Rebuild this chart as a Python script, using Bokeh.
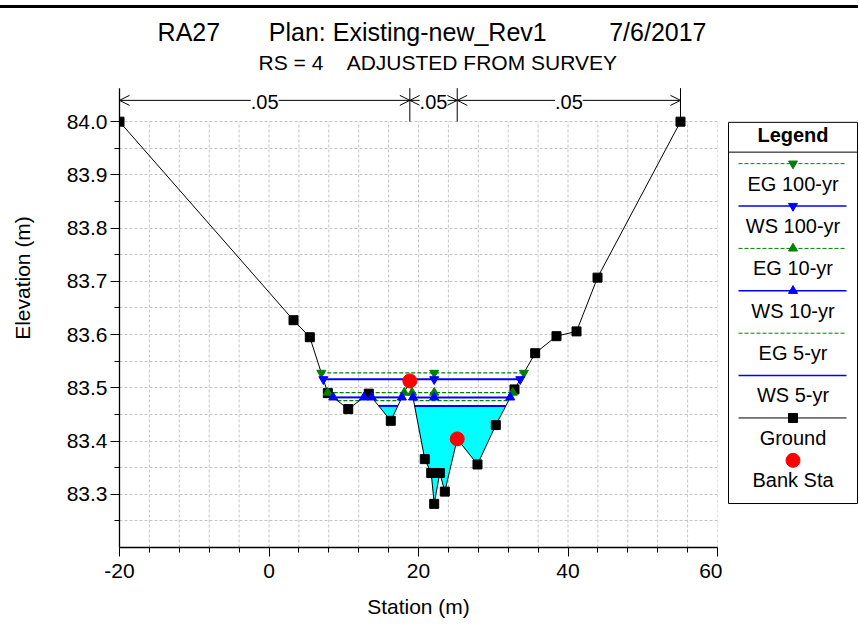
import numpy as np
from bokeh.plotting import figure
from bokeh.models import (Range1d, FixedTicker, ColumnDataSource, Arrow, OpenHead,
                          LabelSet, Label, Div, PrintfTickFormatter)
from bokeh.layouts import row, column
from bokeh.embed import file_html
from bokeh.resources import INLINE
from bokeh.core.properties import value

FONT = "Liberation Sans"

# ---------------- data ----------------
station = [-20.0, 3.28, 5.46, 7.87, 10.60, 13.35, 16.29, 18.84, 20.84, 21.70, 22.10,
           22.85, 23.52, 25.18, 27.89, 30.34, 32.84, 35.61, 38.46, 41.14, 43.95, 55.05]
elevation = [84.000, 83.627, 83.595, 83.490, 83.460, 83.489, 83.438, 83.513, 83.366, 83.340,
             83.282, 83.340, 83.305, 83.404, 83.356, 83.430, 83.497, 83.565, 83.597, 83.606,
             83.707, 84.000]
bank_stations = [18.84, 25.18]
n_values = [".05", ".05", ".05"]

profiles = ["EG 100-yr", "WS 100-yr", "EG 10-yr", "WS 10-yr", "EG 5-yr", "WS 5-yr"]
levels = [83.528, 83.516, 83.491, 83.482, 83.476, 83.466]
prof_colors = ["green", "blue", "green", "blue", "green", "blue"]
prof_dash = ["4 2", "solid", "4 2", "solid", "4 2", "solid"]
prof_width = [1.2, 2, 1.2, 2, 1.2, 2]
prof_marker = ["inverted_triangle", "inverted_triangle", "triangle", "triangle", None, None]

x_major = [-20, 0, 20, 40, 60]
x_minor = [-16, -12, -8, -4, 4, 8, 12, 16, 24, 28, 32, 36, 44, 48, 52, 56]
y_major = [83.3, 83.4, 83.5, 83.6, 83.7, 83.8, 83.9, 84.0]
y_minor = [83.25, 83.35, 83.45, 83.55, 83.65, 83.75, 83.85, 83.95]

title_text = "RA27" + "\u00a0" * 7 + "Plan: Existing-new_Rev1" + "\u00a0" * 9 + "7/6/2017"
subtitle_text = "RS = 4\u00a0\u00a0\u00a0\u00a0ADJUSTED FROM SURVEY"

# layout constants (vertical extent of the plot region in elevation units)
Y_BOTTOM = 83.2
Y_GRID_TOP = 84.0
Y_ZONE_TOP = 84.063      # top of the n-value zone markers
Y_ARROW = 84.040
Y_FRAME_TOP = 84.2126    # frame extends up to hold the titles
Y_TITLE = 84.1678
Y_SUBTITLE = 84.1119

GRID = "#c4c4c4"

# ---------------- helpers ----------------
def wet_intervals(xs, ys, L):
    out, start = [], None
    for i in range(len(xs) - 1):
        x0, y0, x1, y1 = xs[i], ys[i], xs[i + 1], ys[i + 1]
        if (y0 - L) * (y1 - L) < 0:
            xc = x0 + (L - y0) * (x1 - x0) / (y1 - y0)
            if y0 > L:
                start = xc
            else:
                out.append((start, xc))
                start = None
    return out

thalweg = station[int(np.argmin(elevation))]
bank_elev = list(np.interp(bank_stations, station, elevation))

# ---------------- main figure ----------------
MAIN_W, LEG_W, H = 722, 136, 612
p = figure(width=MAIN_W, height=H, x_range=Range1d(-20, 60),
           y_range=Range1d(Y_BOTTOM, Y_FRAME_TOP),
           output_backend="svg", toolbar_location=None,
           min_border_left=119, min_border_right=MAIN_W - 717, min_border_top=0,
           min_border_bottom=69)
p.outline_line_color = None
p.background_fill_color = "white"
p.border_fill_color = "white"

p.add_layout(Label(x=-14.9, y=Y_TITLE, text=title_text, text_font=FONT, text_font_size="25px",
                   text_align="left", text_baseline="middle", text_color="black"))
p.add_layout(Label(x=-1.4, y=Y_SUBTITLE, text=subtitle_text, text_font=FONT,
                   text_font_size="21px", text_align="left", text_baseline="middle",
                   text_color="black"))

# grids
p.xgrid.visible = False
p.ygrid.ticker = FixedTicker(ticks=sorted(y_major + y_minor))
p.ygrid.grid_line_color = GRID
p.ygrid.grid_line_dash = "3 2"
p.ygrid.grid_line_width = 1
grid_x = [x for x in sorted(x_major + x_minor) if x > -20]
p.segment(x0=grid_x, y0=[Y_BOTTOM] * len(grid_x), x1=grid_x, y1=[Y_GRID_TOP] * len(grid_x),
          line_color=GRID, line_dash="3 2", line_width=1)

# axes
p.xaxis.ticker = FixedTicker(ticks=x_major, minor_ticks=x_minor)
p.xaxis.formatter = PrintfTickFormatter(format="%d")
p.yaxis.ticker = FixedTicker(ticks=y_major, minor_ticks=y_minor)
p.yaxis.formatter = PrintfTickFormatter(format="%.1f")
p.yaxis.bounds = (Y_BOTTOM, Y_ZONE_TOP)
for ax in (p.xaxis[0], p.yaxis[0]):
    ax.axis_line_color = "black"
    ax.axis_line_width = 1.3
    ax.major_tick_line_color = "black"
    ax.minor_tick_line_color = "black"
    ax.major_tick_in = 0
    ax.minor_tick_in = 0
    ax.major_tick_out = 9
    ax.minor_tick_out = 5
    ax.major_label_text_font = FONT
    ax.major_label_text_font_size = "21px"
    ax.major_label_text_color = "black"
    ax.axis_label_text_font = FONT
    ax.axis_label_text_font_size = "21px"
    ax.axis_label_text_font_style = "normal"
    ax.axis_label_text_color = "black"
p.xaxis.axis_label = "Station (m)"
p.yaxis.axis_label = "Elevation (m)"
p.yaxis.major_label_standoff = 3
p.yaxis.axis_label_standoff = 30
p.xaxis.major_label_standoff = 7
p.xaxis.axis_label_standoff = 14

# water fill (WS 5-yr, the lowest profile)
ws5 = levels[5]
fill_xs, fill_ys = [], []
for a, b in wet_intervals(station, elevation, ws5):
    inner = [(x, y) for x, y in zip(station, elevation) if a < x < b]
    fill_xs.append([a] + [x for x, _ in inner] + [b])
    fill_ys.append([ws5] + [y for _, y in inner] + [ws5])
p.patches(fill_xs, fill_ys, fill_color="#00ffff", line_color=None)

# profile lines
marker_sets = []
for name, L, col, dash, lw, mk in zip(profiles, levels, prof_colors, prof_dash, prof_width, prof_marker):
    iv = wet_intervals(station, elevation, L)
    x0 = [a for a, _ in iv]
    x1 = [b for _, b in iv]
    p.segment(x0=x0, y0=[L] * len(iv), x1=x1, y1=[L] * len(iv),
              line_color=col, line_dash=dash, line_width=lw)
    if mk:
        mx = x0 + x1
        if any(a < thalweg < b for a, b in iv):
            mx.append(thalweg)
        marker_sets.append((mx, [L] * len(mx), col, mk))

# ground
p.line(station, elevation, line_color="black", line_width=1)
p.scatter(station, elevation, marker="square", size=9, fill_color="black", line_color="black")

for mx, my, col, mk in marker_sets:
    p.scatter(mx, my, marker=mk, size=9, fill_color=col, line_color=col)

p.scatter(bank_stations, bank_elev, marker="circle", size=14, fill_color="red", line_color="red")

# n-value zones
bounds = [station[0]] + bank_stations + [station[-1]]
p.segment(x0=bounds, y0=[Y_GRID_TOP] * len(bounds), x1=bounds, y1=[Y_ZONE_TOP] * len(bounds),
          line_color="black", line_width=1)
nsrc = ColumnDataSource(dict(x0=bounds[:-1], x1=bounds[1:],
                             xm=[(a + b) / 2 for a, b in zip(bounds[:-1], bounds[1:])],
                             y=[Y_ARROW] * len(n_values), n=n_values))
p.add_layout(Arrow(start=OpenHead(size=10, line_width=1, line_color="black"),
                   end=OpenHead(size=10, line_width=1, line_color="black"),
                   x_start="x0", y_start="y", x_end="x1", y_end="y", source=nsrc,
                   line_color="black", line_width=1))
p.add_layout(LabelSet(x="xm", y="y", text="n", source=nsrc, text_align="center",
                      text_baseline="middle", text_font=value(FONT), text_font_size="20px",
                      text_color="black", background_fill_color="white", y_offset=-2))

# ---------------- legend figure (page-pixel coordinates) ----------------
leg_names = profiles + ["Ground", "Bank Sta"]
leg_colors = prof_colors + ["black", None]
leg_dash = prof_dash + ["solid", None]
leg_marker = prof_marker + ["square", "circle"]
leg_mcolor = prof_colors[:4] + [None, None, "black", "red"]
leg_msize = [9, 9, 9, 9, 0, 0, 9, 14]

leg = figure(width=LEG_W, height=H, x_range=Range1d(MAIN_W, MAIN_W + LEG_W),
             y_range=Range1d(551, 8),
             output_backend="svg", toolbar_location=None, x_axis_type=None, y_axis_type=None,
             min_border_left=0, min_border_right=0, min_border_top=0, min_border_bottom=69)
leg.grid.visible = False
leg.outline_line_color = None

BOX_L, BOX_R, BOX_T, BOX_B = 728, 857, 122.7, 506.7
XC = (BOX_L + BOX_R) / 2
leg.quad(left=[BOX_L], right=[BOX_R], top=[BOX_T], bottom=[BOX_B],
         fill_color="white", line_color="black", line_width=1)
leg.text(x=[XC], y=[135.5], text=["Legend"], text_font=value(FONT),
         text_font_size="20px", text_font_style=value("bold"), text_align=value("center"),
         text_baseline=value("middle"), text_color="black")
leg.segment(x0=[BOX_L], y0=[152.7], x1=[BOX_R], y1=[152.7], line_color="black", line_width=1)

for i, nm in enumerate(leg_names):
    yl = 164.3 + i * 42.7
    if leg_colors[i]:
        lw = 1.5 if leg_colors[i] == "blue" else 1
        leg.segment(x0=[BOX_L + 10], y0=[yl], x1=[BOX_R - 11], y1=[yl], line_color=leg_colors[i],
                    line_dash=leg_dash[i], line_width=lw)
    if leg_marker[i] and leg_mcolor[i]:
        leg.scatter([XC], [yl], marker=leg_marker[i], size=leg_msize[i],
                    fill_color=leg_mcolor[i], line_color=leg_mcolor[i])
    leg.text(x=[XC], y=[yl + 20], text=[nm], text_font=value(FONT), text_font_size="20px",
             text_align=value("center"), text_baseline=value("middle"), text_color="black")

bar = Div(text="", width=MAIN_W + LEG_W, height=3, margin=(5, 0, 0, 0),
          styles={"background-color": "black"})
layout = column(bar, row(p, leg, spacing=0), spacing=0)

open("out.html", "w").write(file_html(layout, INLINE))
